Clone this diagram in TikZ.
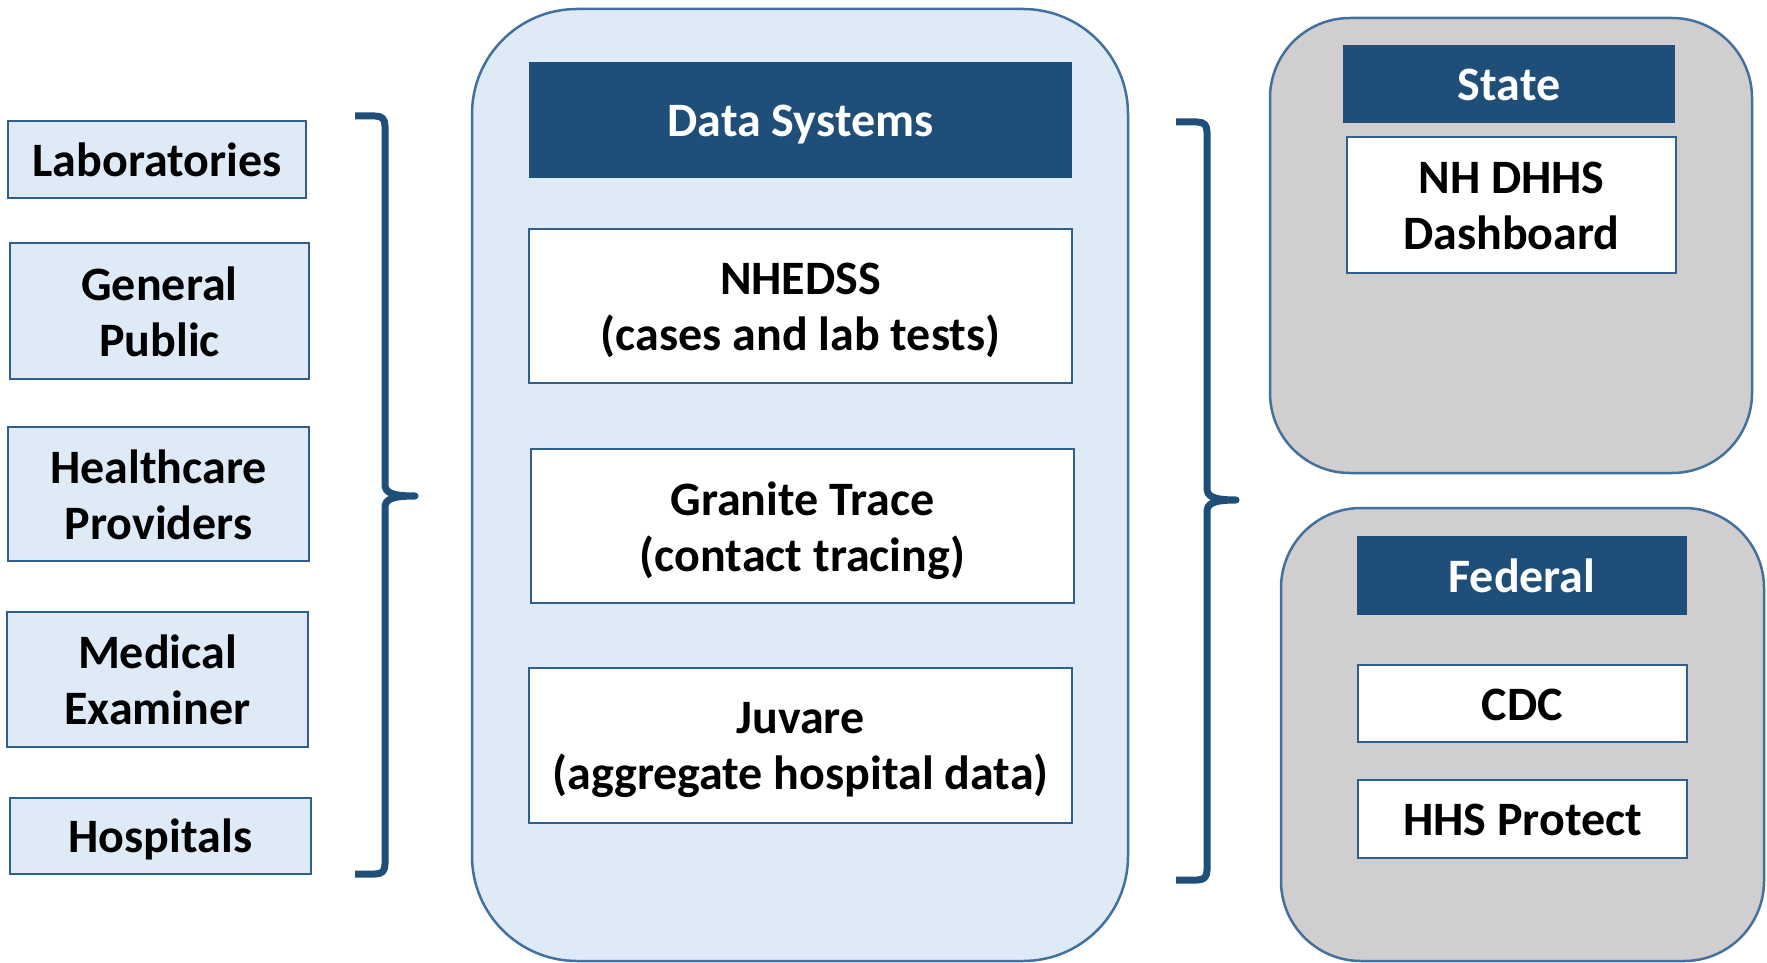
\documentclass[tikz,border=0pt]{standalone}
\usepackage{fontspec}
\setmainfont{Carlito}
\definecolor{lightblue}{HTML}{DEEAF6}
\definecolor{boxborder}{HTML}{2E5F8E}
\definecolor{darkblue}{HTML}{1F4E79}
\definecolor{panelgray}{HTML}{D0CECE}
\definecolor{panelborder}{HTML}{41719C}
\tikzset{
  txt/.style={font=\fontsize{48}{56}\selectfont\bfseries, align=center, inner sep=0pt, outer sep=0pt,
    execute at begin node={\rule{0pt}{46pt}}, execute at end node={\rule[-13pt]{0pt}{13pt}}},
  srcbox/.style={txt, draw=boxborder, fill=lightblue, line width=2pt},
  whitebox/.style={txt, draw=boxborder, fill=white, line width=2pt},
  headbox/.style={txt, fill=darkblue, text=white},
  twotxt/.style={txt},
  panel/.style={draw=panelborder, line width=2.5pt, inner sep=0pt, outer sep=0pt},
  brace/.style={draw=darkblue, line width=7pt, line join=round}
}
\begin{document}
\begin{tikzpicture}[x=1pt,y=-1pt]
\useasboundingbox (0,0) rectangle (1767,963);
% left sources
\node[srcbox, minimum width=298, minimum height=77] (lab) at (157,159.5) {Laboratories};
\node[srcbox, minimum width=299, minimum height=136] (gp) at (159.5,311) {};
\node[twotxt] (gpt) at ([yshift=-7pt]gp.center) {General\\Public};
\node[srcbox, minimum width=301, minimum height=134] (hp) at (158.5,494) {};
\node[twotxt] (hpt) at ([yshift=-7pt]hp.center) {Healthcare\\Providers};
\node[srcbox, minimum width=301, minimum height=135] (me) at (157.5,679.5) {};
\node[twotxt] (met) at ([yshift=-7pt]me.center) {Medical\\Examiner};
\node[srcbox, minimum width=301, minimum height=76] (hosp) at (160.5,836) {Hospitals};
% left brace
\draw[brace] (355,116) -- (375,116) .. controls (382,116) and (385,119) .. (385,126)
  -- (385,484) .. controls (385,492) and (390,496) .. (415,496)
  .. controls (390,496) and (385,500) .. (385,508)
  -- (385,864) .. controls (385,871) and (382,874) .. (375,874) -- (355,874);
% data systems panel
\node[panel, fill=lightblue, rounded corners=105pt, minimum width=656, minimum height=952] (ds) at (800,485) {};
\node[headbox, minimum width=543, minimum height=116] (dshead) at (800.5,120) {Data Systems};
\node[whitebox, minimum width=543, minimum height=154] (nhedss) at (800.5,306) {};
\node[twotxt] (nhedsst) at ([yshift=-7pt]nhedss.center) {NHEDSS\\(cases and lab tests)};
\node[whitebox, minimum width=543, minimum height=154] (granite) at (802.5,526) {};
\node[twotxt] (granitet) at ([yshift=-7pt]granite.center) {Granite Trace\\(contact tracing)};
\node[whitebox, minimum width=543, minimum height=155] (juvare) at (800.5,745.5) {};
\node[twotxt] (juvaret) at ([yshift=-7pt]juvare.center) {Juvare\\(aggregate hospital data)};
% right brace
\draw[brace] (1176,122) -- (1197,122) .. controls (1204,122) and (1207,125) .. (1207,132)
  -- (1207,488) .. controls (1207,496) and (1212,500) .. (1236,500)
  .. controls (1212,500) and (1207,504) .. (1207,512)
  -- (1207,870) .. controls (1207,877) and (1204,880) .. (1197,880) -- (1176,880);
% state panel
\node[panel, fill=panelgray, rounded corners=80pt, minimum width=482, minimum height=455] (state) at (1511,245.5) {};
\node[headbox, minimum width=332, minimum height=78] (statehead) at (1509,84) {State};
\node[whitebox, minimum width=329, minimum height=136] (dash) at (1511.5,205) {};
\node[twotxt] (dasht) at ([yshift=-7pt]dash.center) {NH DHHS\\Dashboard};
% federal panel
\node[panel, fill=panelgray, rounded corners=80pt, minimum width=483, minimum height=453] (fed) at (1522.5,734.5) {};
\node[headbox, minimum width=330, minimum height=79] (fedhead) at (1522,575.5) {Federal};
\node[whitebox, minimum width=329, minimum height=77] (cdc) at (1522.5,703.5) {CDC};
\node[whitebox, minimum width=329, minimum height=78] (hhs) at (1522.5,819) {HHS Protect};
\end{tikzpicture}
\end{document}
